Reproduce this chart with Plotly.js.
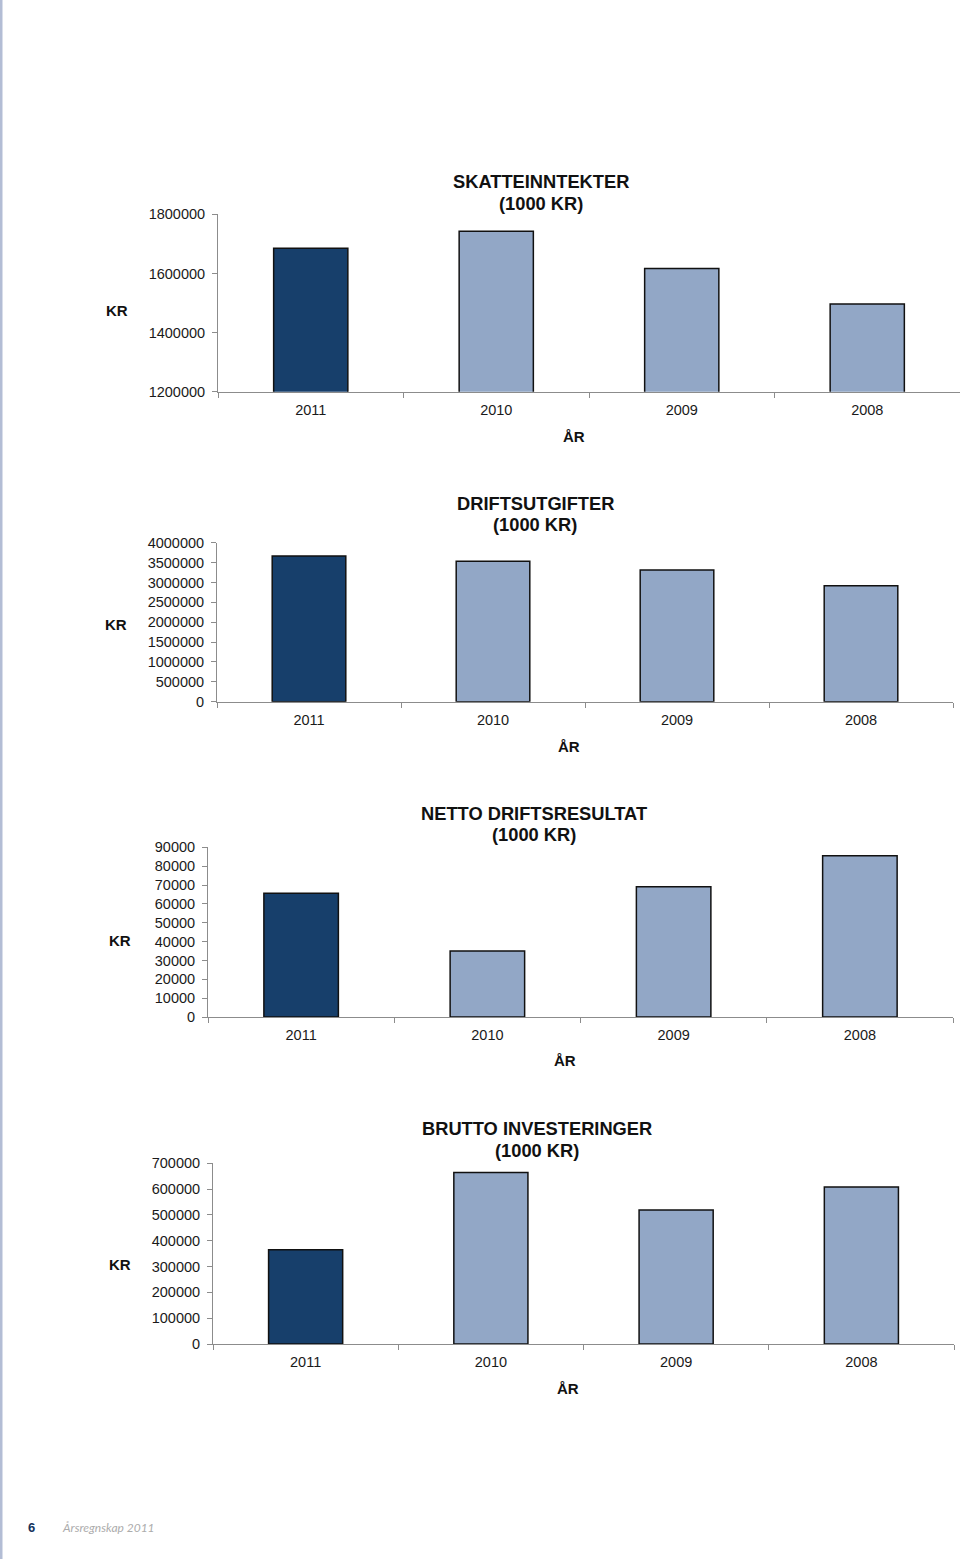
<!DOCTYPE html>
<html>
<head>
<meta charset="utf-8">
<script src="https://cdn.plot.ly/plotly-3.0.1.min.js"></script>
<style>
  html, body { margin: 0; padding: 0; background: #ffffff; }
  #chart { width: 960px; height: 1559px; }
</style>
</head>
<body>
<div id="chart"></div>
<script>
// ---- data ----
const years = ["2011", "2010", "2009", "2008"];
const skatteinntekter = [1685000, 1743000, 1617000, 1497000];
const driftsutgifter = [3665000, 3532000, 3313000, 2918000];
const nettoDriftsresultat = [65600, 35000, 69100, 85500];
const bruttoInvesteringer = [365000, 664000, 519000, 608000];

const titles = [
  ["SKATTEINNTEKTER", "(1000 KR)"],
  ["DRIFTSUTGIFTER", "(1000 KR)"],
  ["NETTO DRIFTSRESULTAT", "(1000 KR)"],
  ["BRUTTO INVESTERINGER", "(1000 KR)"]
];
const yTitle = "KR";
const xTitle = "ÅR";
const yTicks = [
  [1200000, 1400000, 1600000, 1800000],
  [0, 500000, 1000000, 1500000, 2000000, 2500000, 3000000, 3500000, 4000000],
  [0, 10000, 20000, 30000, 40000, 50000, 60000, 70000, 80000, 90000],
  [0, 100000, 200000, 300000, 400000, 500000, 600000, 700000]
];
const footerPage = "6";
const footerText = "Årsregnskap 2011";

// ---- layout helpers ----
const W = 960, H = 1559;
const px = x => x / W;
const py = y => 1 - y / H;

const darkColor = "#173f6b";
const lightColor = "#92a7c6";
const barColors = years.map((y, i) => i === 0 ? darkColor : lightColor);

const series = [skatteinntekter, driftsutgifter, nettoDriftsresultat, bruttoInvesteringer];

// plot boxes (pixels): left, right, top, bottom
const boxes = [
  {l: 218, r: 960, t: 214.3, b: 391.7, range: [1200000, 1800000],
   title: [540.5, 182, 203], kr: [117, 310], ar: [574, 436]},
  {l: 217, r: 953, t: 542.7, b: 701.7, range: [0, 4000000],
   title: [535, 503, 524], kr: [116, 625], ar: [569, 746]},
  {l: 208, r: 953, t: 847.3, b: 1017, range: [0, 90000],
   title: [534, 813, 834], kr: [120, 940], ar: [565, 1060]},
  {l: 213, r: 954, t: 1163.3, b: 1344, range: [0, 700000],
   title: [537, 1128, 1150], kr: [120, 1264], ar: [568, 1388]}
];

const traces = [];
const layout = {
  width: W, height: H,
  margin: {l: 0, r: 0, t: 0, b: 0},
  paper_bgcolor: "#ffffff",
  plot_bgcolor: "rgba(0,0,0,0)",
  showlegend: false,
  font: {family: "Liberation Sans, Arial, sans-serif", color: "#1a1a1a", size: 14.5},
  annotations: [],
  shapes: [
    {type: "rect", xref: "paper", yref: "paper", x0: 0, x1: px(2.5), y0: 0, y1: 1,
     fillcolor: "#b3bdd5", line: {width: 0}, layer: "below"}
  ]
};

boxes.forEach((b, i) => {
  const n = i === 0 ? "" : String(i + 1);
  traces.push({
    type: "bar",
    x: years,
    y: series[i],
    xaxis: "x" + n,
    yaxis: "y" + n,
    width: 0.4,
    marker: {color: barColors, line: {color: "#111111", width: 1.5}},
    hoverinfo: "x+y"
  });
  layout["xaxis" + n] = {
    domain: [px(b.l), px(b.r)],
    anchor: "y" + n,
    type: "category",
    showline: true, linecolor: "#8c8c8c", linewidth: 1,
    ticks: "outside", tickson: "boundaries", ticklen: 5, tickcolor: "#8c8c8c",
    showgrid: false, zeroline: false,
    tickfont: {size: 14.5, color: "#1a1a1a"},
    ticklabelstandoff: 5,
    fixedrange: true
  };
  layout["yaxis" + n] = {
    domain: [py(b.b), py(b.t)],
    anchor: "x" + n,
    range: b.range,
    tickvals: yTicks[i],
    ticktext: yTicks[i].map(v => String(v)),
    showline: true, linecolor: "#8c8c8c", linewidth: 1,
    ticks: "outside", ticklen: 5, tickcolor: "#8c8c8c",
    showgrid: false, zeroline: false,
    tickfont: {size: 14.5, color: "#1a1a1a"},
    ticklabelstandoff: 4,
    fixedrange: true
  };
  // title lines
  titles[i].forEach((line, k) => {
    layout.annotations.push({
      xref: "paper", yref: "paper",
      x: px(b.title[0]), y: py(b.title[1 + k]),
      xanchor: "center", yanchor: "middle",
      text: "<b>" + line + "</b>", showarrow: false,
      font: {size: 18.3, color: "#111111", family: "Liberation Sans, Arial, sans-serif"}
    });
  });
  layout.annotations.push({
    xref: "paper", yref: "paper", x: px(b.kr[0]), y: py(b.kr[1]),
    xanchor: "center", yanchor: "middle", showarrow: false,
    text: "<b>" + yTitle + "</b>",
    font: {size: 15, color: "#111111"}
  });
  layout.annotations.push({
    xref: "paper", yref: "paper", x: px(b.ar[0]), y: py(b.ar[1]),
    xanchor: "center", yanchor: "middle", showarrow: false,
    text: "<b>" + xTitle + "</b>",
    font: {size: 15, color: "#111111"}
  });
});

// footer
layout.annotations.push({
  xref: "paper", yref: "paper", x: px(31), y: py(1527),
  xanchor: "center", yanchor: "middle", showarrow: false,
  text: "<b>" + footerPage + "</b>",
  font: {size: 13, color: "#14325c"}
});
layout.annotations.push({
  xref: "paper", yref: "paper", x: px(60), y: py(1527),
  xanchor: "left", yanchor: "middle", showarrow: false,
  text: "<i>" + footerText + "</i>",
  font: {size: 12, color: "#acacac", family: "Lato, Open Sans, sans-serif"}
});

Plotly.newPlot("chart", traces, layout, {displayModeBar: false, staticPlot: true});
</script>
</body>
</html>
